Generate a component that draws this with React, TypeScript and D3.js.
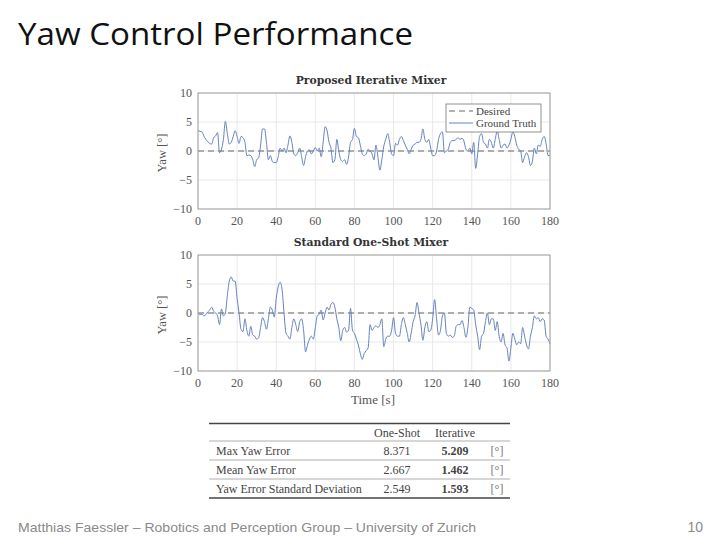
import React from "react";
import * as d3 from "d3";

const iterativeYaw = [
  3.5, 3.4, 3.3, 2.6, 2, 1.6, 1.3, 1.2, 2.3, 2.6, 3.2, -0.3, 0.3, 2, 5.1, 3, 1.2, 1.5, 2.5, 3.5,
  2.5, 1.3, 2.5, 2.3, 1.5, -0.8, -0.7, -0.8, -1.5, -2.7, -1.5, -1.2, 1, 3.8, 3.8, 1.5, -1.5, -0.8, -1.8, -2,
  -2, -1, 0.5, 0, 0.5, -0.3, 1, 2.6, 1.5, -0.5, -0.8, -0.3, 0.5, -1, -2.5, -1, 0, 0.2, -0.5, 0,
  0.6, 0, 0.5, -1, 1.5, 4.2, 3.5, 1.5, 0.5, -2, -1.5, 2, 0, -1.5, -1.8, -1.5, -2.3, -1, 1.5, 2,
  3.9, 2.5, 2.3, 1, -0.5, -0.8, -0.5, 0.3, 0, -0.5, -1.5, 1, -1, -3.3, -1.5, 0.8, 2, 3, 1.5, -0.5,
  -0.8, 1.3, 1, 2, 2.5, 1.8, 1, 0.3, -0.5, 0.3, 1, 1.2, 1.5, 1.5, 2, 3.8, 2, 1.5, 2, 0.5,
  -0.8, -0.8, 0, 2, 3, 3.3, -0.3, 0, 0.3, 1.5, 1.8, 1.8, 2, 2.3, 2, 2.2, 1.7, 0.3, 0, 0.5,
  -0.5, 1.5, -3, -0.5, 2.5, 3, 1.5, 1.2, 0.5, 2, 1.5, 0.5, 2, 3.5, 2, 0.5, 1, 1.2, 0.5, 1,
  2, 3.3, 2.5, 1, 0.3, 0, -2, -1, -0.3, -1, -2.5, -1.8, 0.5, -0.5, 1, 0.8, 2, 2.5, 1.3, -0.8,
  -0.8,
];
const oneShotYaw = [
  0, -0.3, -0.2, -0.5, -0.3, 0.2, 0.5, 1, 0.3, 0, -0.5, -2, 0.7, -0.5, 0, 3, 5.5, 6.2, 5.5, 5.5,
  2.5, 0, -2.8, -3.2, -1, -3, -4, -2.3, -3.8, -4, -4.5, -4.3, -2.5, -0.8, -1.5, -2.8, -1, 1, 0.5, -0.7,
  2.5, 4.5, 5.3, 4, 0, -3.5, -4, -4.5, -2.5, -1, -2, -3.2, -1.5, -1, -3, -6.7, -5.5, -4.5, -4, -4.5,
  -2.5, -0.5, -0.2, 0.5, -1.2, 0, 1, 0.5, 1.5, 1.8, 1, -1, -2.5, -4.8, -3, -2.5, -3.3, -3, 0.8, -3,
  -3.5, -4.5, -5.5, -7, -8, -7, -6.5, -6, -2, -3, -2.5, -2.2, -2.5, -2, -1, -5.8, -4.5, -4, -4, -3,
  -0.8, -3.5, -4, -4, -2, -0.8, -2, -3.5, -5, -3.5, -1.5, -0.5, 1.8, 0, -2, -4.7, -2.5, -1.5, -3.2, -3,
  -1, 2.3, -1, -3.8, -3, -0.5, 0, -3.5, -4, -3.8, -4.2, -4, -2.3, -2, -2, -1.3, -2.5, -4.2, -2.5, 1,
  0.8, 0.5, -2, -4, -6.3, -4, -3.5, -1.5, 0, -2, -1, -1, -3, -1.5, -4, -5, -3.5, -5.5, -6, -8.3,
  -6, -3.5, -4.5, -5.5, -5, -5.3, -2.5, -4, -5.5, -6.2, -4, -2.5, -0.5, -1, -0.8, -1.5, -1, -1.2, -4, -4.5,
  -5.3,
];
const xTicks = [0, 20, 40, 60, 80, 100, 120, 140, 160, 180];
const yTicks = [-10, -5, 0, 5, 10];

const tableCols = ["One-Shot", "Iterative"];
const tableRows = ["Max Yaw Error", "Mean Yaw Error", "Yaw Error Standard Deviation"];
const oneShotStats = ["8.371", "2.667", "2.549"];
const iterativeStats = ["5.209", "1.462", "1.593"];

const serif = "'Liberation Serif', 'DejaVu Serif', serif";
const lineColor = "#6683bd";

function fmt(v: number) {
  return v < 0 ? "\u2212" + Math.abs(v) : String(v);
}

function Panel({ top, title, data, legend, xLabel }: any) {
  const x = d3.scaleLinear().domain([0, 180]).range([198, 550]);
  const y = d3.scaleLinear().domain([-10, 10]).range([top + 116, top]);
  const line = d3
    .line<number>()
    .x((_, i) => x(i))
    .y((d) => y(d))
    .curve(d3.curveMonotoneX);
  return (
    <g>
      <text x={371} y={top - 9} textAnchor="middle" fontFamily="'DejaVu Serif', serif" fontWeight="bold" fontSize={10.8} fill="#333">
        {title}
      </text>
      <rect x={198} y={top} width={352} height={116} fill="#fff" />
      {xTicks.map((t) => (
        <line key={"gx" + t} x1={x(t)} x2={x(t)} y1={top} y2={top + 116} stroke="#e8e8e8" strokeWidth={1} />
      ))}
      {yTicks.map((t) => (
        <line key={"gy" + t} x1={198} x2={550} y1={y(t)} y2={y(t)} stroke="#e8e8e8" strokeWidth={1} />
      ))}
      <line x1={198} x2={550} y1={y(0)} y2={y(0)} stroke="#666" strokeWidth={1} strokeDasharray="6,4" />
      <path d={line(data) || ""} fill="none" stroke={lineColor} strokeWidth={1} />
      <rect x={198} y={top} width={352} height={116} fill="none" stroke="#a0a0a0" strokeWidth={1} />
      {xTicks.map((t) => (
        <text key={"tx" + t} x={x(t)} y={top + 132} textAnchor="middle" fontFamily={serif} fontSize={12} fill="#555">
          {t}
        </text>
      ))}
      {yTicks.map((t) => (
        <text key={"ty" + t} x={192} y={y(t) + 4} textAnchor="end" fontFamily={serif} fontSize={12} fill="#555">
          {fmt(t)}
        </text>
      ))}
      <text
        transform={`translate(166,${top + 60}) rotate(-90)`}
        textAnchor="middle"
        fontFamily={serif}
        fontSize={12.5}
        fill="#555"
      >
        Yaw [°]
      </text>
      {xLabel && (
        <text x={373} y={top + 149} textAnchor="middle" fontFamily={serif} fontSize={13} fill="#555">
          {xLabel}
        </text>
      )}
      {legend && (
        <g>
          <rect x={446} y={top + 11} width={95} height={28} fill="#fff" stroke="#777" strokeWidth={0.8} />
          <line x1={449} x2={473} y1={top + 18} y2={top + 18} stroke="#666" strokeDasharray="6,4" />
          <line x1={449} x2={473} y1={top + 30} y2={top + 30} stroke={lineColor} />
          <text x={476} y={top + 21.5} fontFamily={serif} fontSize={11} fill="#444">Desired</text>
          <text x={476} y={top + 33.5} fontFamily={serif} fontSize={11} fill="#444">Ground Truth</text>
        </g>
      )}
    </g>
  );
}

function StatsTable() {
  const rowY = d3.scaleBand<number>().domain([0, 1, 2]).range([441, 498]);
  const colX = [397, 455];
  return (
    <g fontFamily={serif} fontSize={12} fill="#444">
      <line x1={209} x2={510} y1={423.5} y2={423.5} stroke="#444" strokeWidth={1.5} />
      {tableCols.map((c, i) => (
        <text key={c} x={colX[i]} y={437} textAnchor="middle">{c}</text>
      ))}
      <line x1={209} x2={510} y1={441} y2={441} stroke="#999" strokeWidth={0.8} />
      {tableRows.map((r, i) => {
        const cy = (rowY(i) || 0) + rowY.bandwidth() / 2 + 4;
        return (
          <g key={r}>
            <text x={216} y={cy}>{r}</text>
            <text x={colX[0]} y={cy} textAnchor="middle">{oneShotStats[i]}</text>
            <text x={colX[1]} y={cy} textAnchor="middle" fontWeight="bold">{iterativeStats[i]}</text>
            <text x={497} y={cy} textAnchor="middle" fill="#777">[°]</text>
            {i < 2 && (
              <line x1={209} x2={510} y1={(rowY(i) || 0) + rowY.bandwidth()} y2={(rowY(i) || 0) + rowY.bandwidth()} stroke="#999" strokeWidth={0.8} />
            )}
          </g>
        );
      })}
      <line x1={209} x2={510} y1={498} y2={498} stroke="#444" strokeWidth={1.5} />
    </g>
  );
}

export default function App() {
  return (
    <svg width={720} height={540} style={{ position: "absolute", left: 0, top: 0, background: "#fff" }}>
      <text x={18} y={45} fontFamily="'Open Sans', sans-serif" fontSize={31} fill="#111" textLength={395} lengthAdjust="spacingAndGlyphs">
        Yaw Control Performance
      </text>
      <Panel top={93} title="Proposed Iterative Mixer" data={iterativeYaw} legend />
      <Panel top={255} title="Standard One-Shot Mixer" data={oneShotYaw} xLabel="Time [s]" />
      <StatsTable />
      <text x={18} y={532} fontFamily="'Liberation Sans', Arial, sans-serif" fontSize={13.5} fill="#8a8a8a" textLength={458} lengthAdjust="spacingAndGlyphs">
        Matthias Faessler – Robotics and Perception Group – University of Zurich
      </text>
      <text x={703} y={532} textAnchor="end" fontFamily="'Liberation Sans', Arial, sans-serif" fontSize={14} fill="#8a8a8a">
        10
      </text>
    </svg>
  );
}
